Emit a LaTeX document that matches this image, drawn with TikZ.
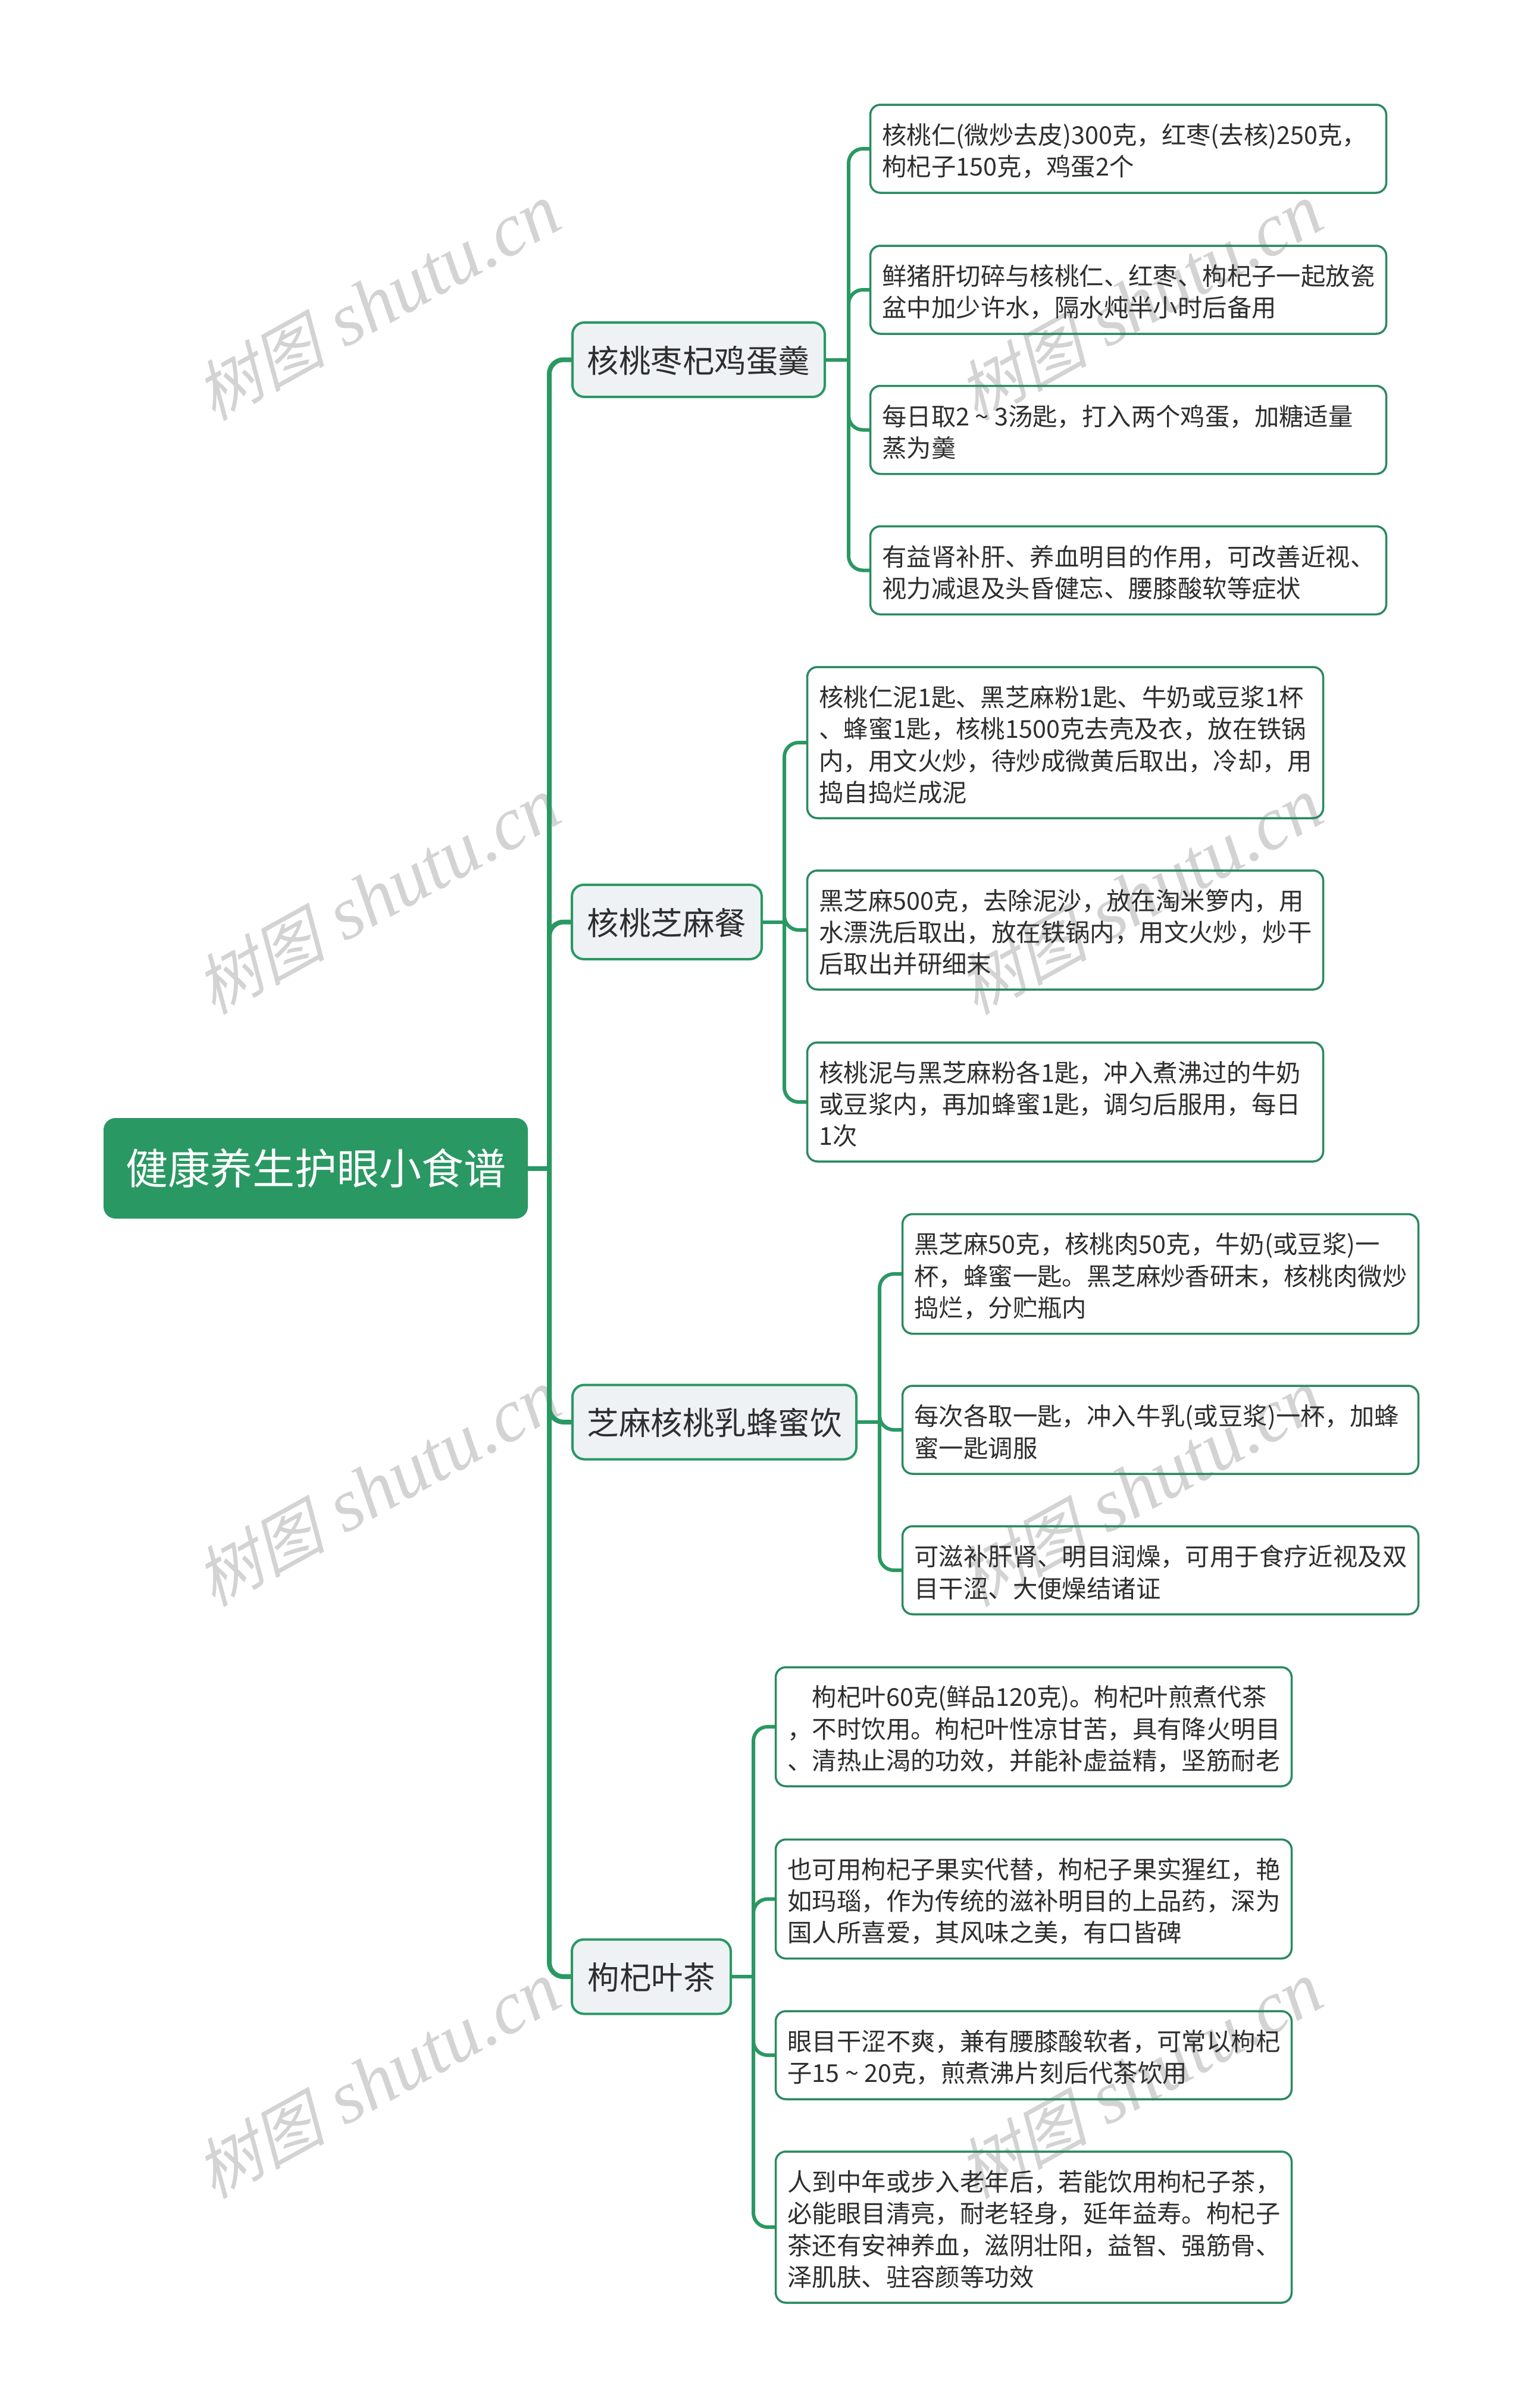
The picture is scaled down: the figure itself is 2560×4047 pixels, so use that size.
\documentclass[tikz,border=0pt]{standalone}
\usepackage{fontspec}
\setmainfont{Noto Sans CJK SC}
\newfontfamily\wmcjk[FakeSlant=0.25]{Noto Sans CJK SC}
\newfontfamily\wmlat{Liberation Serif}
\definecolor{mapgreen}{HTML}{2A9863}
\definecolor{leafedge}{HTML}{2A8A60}
\definecolor{branchfill}{HTML}{EEF2F5}
\definecolor{inktext}{HTML}{2E2E2E}
\definecolor{wmgrey}{HTML}{D3D3D3}
\newcommand{\wmark}{{\wmcjk\fontsize{110}{110}\selectfont 树图}\,{\wmlat\itshape\fontsize{126}{126}\selectfont\ shutu.cn}}
\newcommand{\wtilde}{\makebox[1em]{\symbol{"7E}}}
\tikzset{
  rootbox/.style={rectangle,draw=mapgreen,fill=mapgreen,line width=2pt,rounded corners=19pt,
    minimum width=711pt,minimum height=167pt,inner sep=0pt,text=white,font=\fontsize{71}{84}\selectfont},
  branchbox/.style={rectangle,draw=mapgreen,fill=branchfill,line width=4pt,rounded corners=20pt,
    minimum height=125pt,inner sep=0pt,text=inktext,text height=50pt,text depth=7pt,font=\fontsize{53.5}{64}\selectfont},
  leafbox/.style={rectangle,draw=leafedge,line width=3.5pt,rounded corners=17pt,
    text width=827pt,inner xsep=20pt,inner ysep=0pt,align=left,text=inktext,
    font=\fontsize{41.4}{53.3}\selectfont,execute at begin node={\rule{0pt}{42.5pt}}},
  stem/.style={draw=mapgreen,line width=8pt},
  trunk/.style={draw=mapgreen,line width=8pt,rounded corners=24pt},
  substem/.style={draw=mapgreen,line width=6pt},
  subtrunk/.style={draw=mapgreen,line width=6pt,rounded corners=24pt},
  wm/.style={text=wmgrey,rotate=29,inner sep=0pt}
}
\begin{document}
\begin{tikzpicture}[x=1pt,y=-1pt]
\useasboundingbox (0,0) rectangle (2560,4047);
\fill[white] (0,0) rectangle (2560,4047);
% watermarks
\node[wm] (w1) at (634,508) {\wmark};
\node[wm] (w2) at (1915,508) {\wmark};
\node[wm] (w3) at (634,1506) {\wmark};
\node[wm] (w4) at (1915,1506) {\wmark};
\node[wm] (w5) at (634,2501) {\wmark};
\node[wm] (w6) at (1915,2501) {\wmark};
\node[wm] (w7) at (634,3496) {\wmark};
\node[wm] (w8) at (1915,3496) {\wmark};
% root
\node[rootbox] (root) at (530.5,1963.5) {健康养生护眼小食谱};
% branches
\node[branchbox,minimum width=424pt] (b1) at (1174,604.5) {核桃枣杞鸡蛋羹};
\node[branchbox,minimum width=319pt] (b2) at (1120.5,1549.5) {核桃芝麻餐};
\node[branchbox,minimum width=477pt] (b3) at (1200.5,2390) {芝麻核桃乳蜂蜜饮};
\node[branchbox,minimum width=267pt] (b4) at (1094.5,3322) {枸杞叶茶};
% leaves of b1
\node[leafbox,minimum height=148pt] (l11) at (1896,250) {核桃仁(微炒去皮)300克，红枣(去核)250克，\\枸杞子150克，鸡蛋2个};
\node[leafbox,minimum height=148pt] (l12) at (1896,487) {鲜猪肝切碎与核桃仁、红枣、枸杞子一起放瓷\\盆中加少许水，隔水炖半小时后备用};
\node[leafbox,minimum height=148pt] (l13) at (1896,722.5) {每日取2\wtilde 3汤匙，打入两个鸡蛋，加糖适量\\蒸为羹};
\node[leafbox,minimum height=148pt] (l14) at (1896,958.5) {有益肾补肝、养血明目的作用，可改善近视、\\视力减退及头昏健忘、腰膝酸软等症状};
% leaves of b2
\node[leafbox,minimum height=254pt] (l21) at (1790,1248) {核桃仁泥1匙、黑芝麻粉1匙、牛奶或豆浆1杯\\、蜂蜜1匙，核桃1500克去壳及衣，放在铁锅\\内，用文火炒，待炒成微黄后取出，冷却，用\\捣自捣烂成泥};
\node[leafbox,minimum height=200pt] (l22) at (1790,1563) {黑芝麻500克，去除泥沙，放在淘米箩内，用\\水漂洗后取出，放在铁锅内，用文火炒，炒干\\后取出并研细末};
\node[leafbox,minimum height=200pt] (l23) at (1790,1852) {核桃泥与黑芝麻粉各1匙，冲入煮沸过的牛奶\\或豆浆内，再加蜂蜜1匙，调匀后服用，每日\\1次};
% leaves of b3
\node[leafbox,minimum height=201pt] (l31) at (1950,2141) {黑芝麻50克，核桃肉50克，牛奶(或豆浆)一\\杯，蜂蜜一匙。黑芝麻炒香研末，核桃肉微炒\\捣烂，分贮瓶内};
\node[leafbox,minimum height=148pt] (l32) at (1950,2403) {每次各取一匙，冲入牛乳(或豆浆)一杯，加蜂\\蜜一匙调服};
\node[leafbox,minimum height=148pt] (l33) at (1950,2639) {可滋补肝肾、明目润燥，可用于食疗近视及双\\目干涩、大便燥结诸证};
% leaves of b4
\node[leafbox,minimum height=200pt] (l41) at (1737,2902) {　枸杞叶60克(鲜品120克)。枸杞叶煎煮代茶\\，不时饮用。枸杞叶性凉甘苦，具有降火明目\\、清热止渴的功效，并能补虚益精，坚筋耐老};
\node[leafbox,minimum height=200pt] (l42) at (1737,3191.5) {也可用枸杞子果实代替，枸杞子果实猩红，艳\\如玛瑙，作为传统的滋补明目的上品药，深为\\国人所喜爱，其风味之美，有口皆碑};
\node[leafbox,minimum height=148pt] (l43) at (1737,3454) {眼目干涩不爽，兼有腰膝酸软者，可常以枸杞\\子15\wtilde 20克，煎煮沸片刻后代茶饮用};
\node[leafbox,minimum height=254pt] (l44) at (1737,3743) {人到中年或步入老年后，若能饮用枸杞子茶，\\必能眼目清亮，耐老轻身，延年益寿。枸杞子\\茶还有安神养血，滋阴壮阳，益智、强筋骨、\\泽肌肤、驻容颜等功效};
% junction points
\coordinate (t0) at (923,1963.5);
\coordinate (s1) at (1426,604.5);
\coordinate (s2) at (1318,1549.5);
\coordinate (s3) at (1478,2390);
\coordinate (s4) at (1266,3322);
% root connectors
\draw[stem] (root.east) -- (t0);
\foreach \b in {b1,b2,b3,b4} \draw[trunk] (t0) |- (\b.west);
% branch connectors
\draw[substem] (b1.east) -- (s1);
\foreach \l in {l11,l12,l13,l14} \draw[subtrunk] (s1) |- (\l.west);
\draw[substem] (b2.east) -- (s2);
\foreach \l in {l21,l22,l23} \draw[subtrunk] (s2) |- (\l.west);
\draw[substem] (b3.east) -- (s3);
\foreach \l in {l31,l32,l33} \draw[subtrunk] (s3) |- (\l.west);
\draw[substem] (b4.east) -- (s4);
\foreach \l in {l41,l42,l43,l44} \draw[subtrunk] (s4) |- (\l.west);
\end{tikzpicture}
\end{document}
